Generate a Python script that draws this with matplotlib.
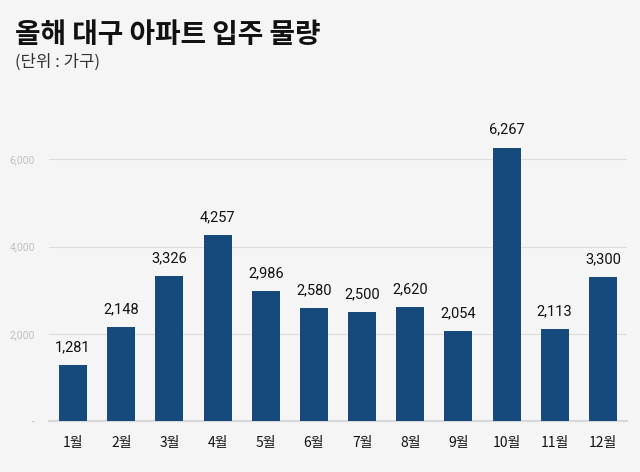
import matplotlib
matplotlib.use("Agg")
import matplotlib.pyplot as plt

plt.rcParams['font.family'] = ['Noto Sans CJK KR', 'DejaVu Sans']

months = ["1월", "2월", "3월", "4월", "5월", "6월", "7월", "8월", "9월", "10월", "11월", "12월"]
values = [1281, 2148, 3326, 4257, 2986, 2580, 2500, 2620, 2054, 6267, 2113, 3300]
yticks = [0, 2000, 4000, 6000]
ytick_labels = ["-", "2,000", "4,000", "6,000"]

bg = "#f5f5f5"
bar_color = "#174a7c"

fig = plt.figure(figsize=(6.4, 4.72), dpi=100, facecolor=bg)
ax = fig.add_axes([0.0766, 0.108, 0.903, 0.647], facecolor=bg)

x = list(range(len(months)))
ax.bar(x, values, width=0.58, color=bar_color, zorder=3)
for xi, v in zip(x, values):
    ax.text(xi, v + 250, f"{v:,}", ha="center", va="bottom", fontsize=10.5,
            color="#111111", family=["Roboto", "DejaVu Sans"])

ax.set_xlim(-0.5, 11.5)
ax.set_ylim(0, 7000)
ax.set_yticks(yticks)
ax.set_yticklabels(ytick_labels, fontsize=7.5, color="#c0c0c0", family=["Roboto", "DejaVu Sans"])
ax.set_xticks(x)
ax.set_xticklabels(months, fontsize=10, color="#111111", fontweight="medium")
ax.tick_params(axis="both", length=0)
ax.tick_params(axis="x", pad=11)
ax.tick_params(axis="y", pad=10)
ax.grid(axis="y", color="#dddddd", linewidth=0.8, zorder=0)
for s in ["top", "right", "left"]:
    ax.spines[s].set_visible(False)
ax.spines["bottom"].set_color("#d8d8d8")
ax.spines["bottom"].set_linewidth(1.5)

fig.text(0.023, 0.925, "올해 대구 아파트 입주 물량", fontsize=20, fontweight="bold", color="#111111", va="center", ha="left")
fig.text(0.023, 0.868, "(단위 : 가구)", fontsize=12, color="#333333", va="center", ha="left")

fig.savefig("out.png", dpi=100, facecolor=bg)
